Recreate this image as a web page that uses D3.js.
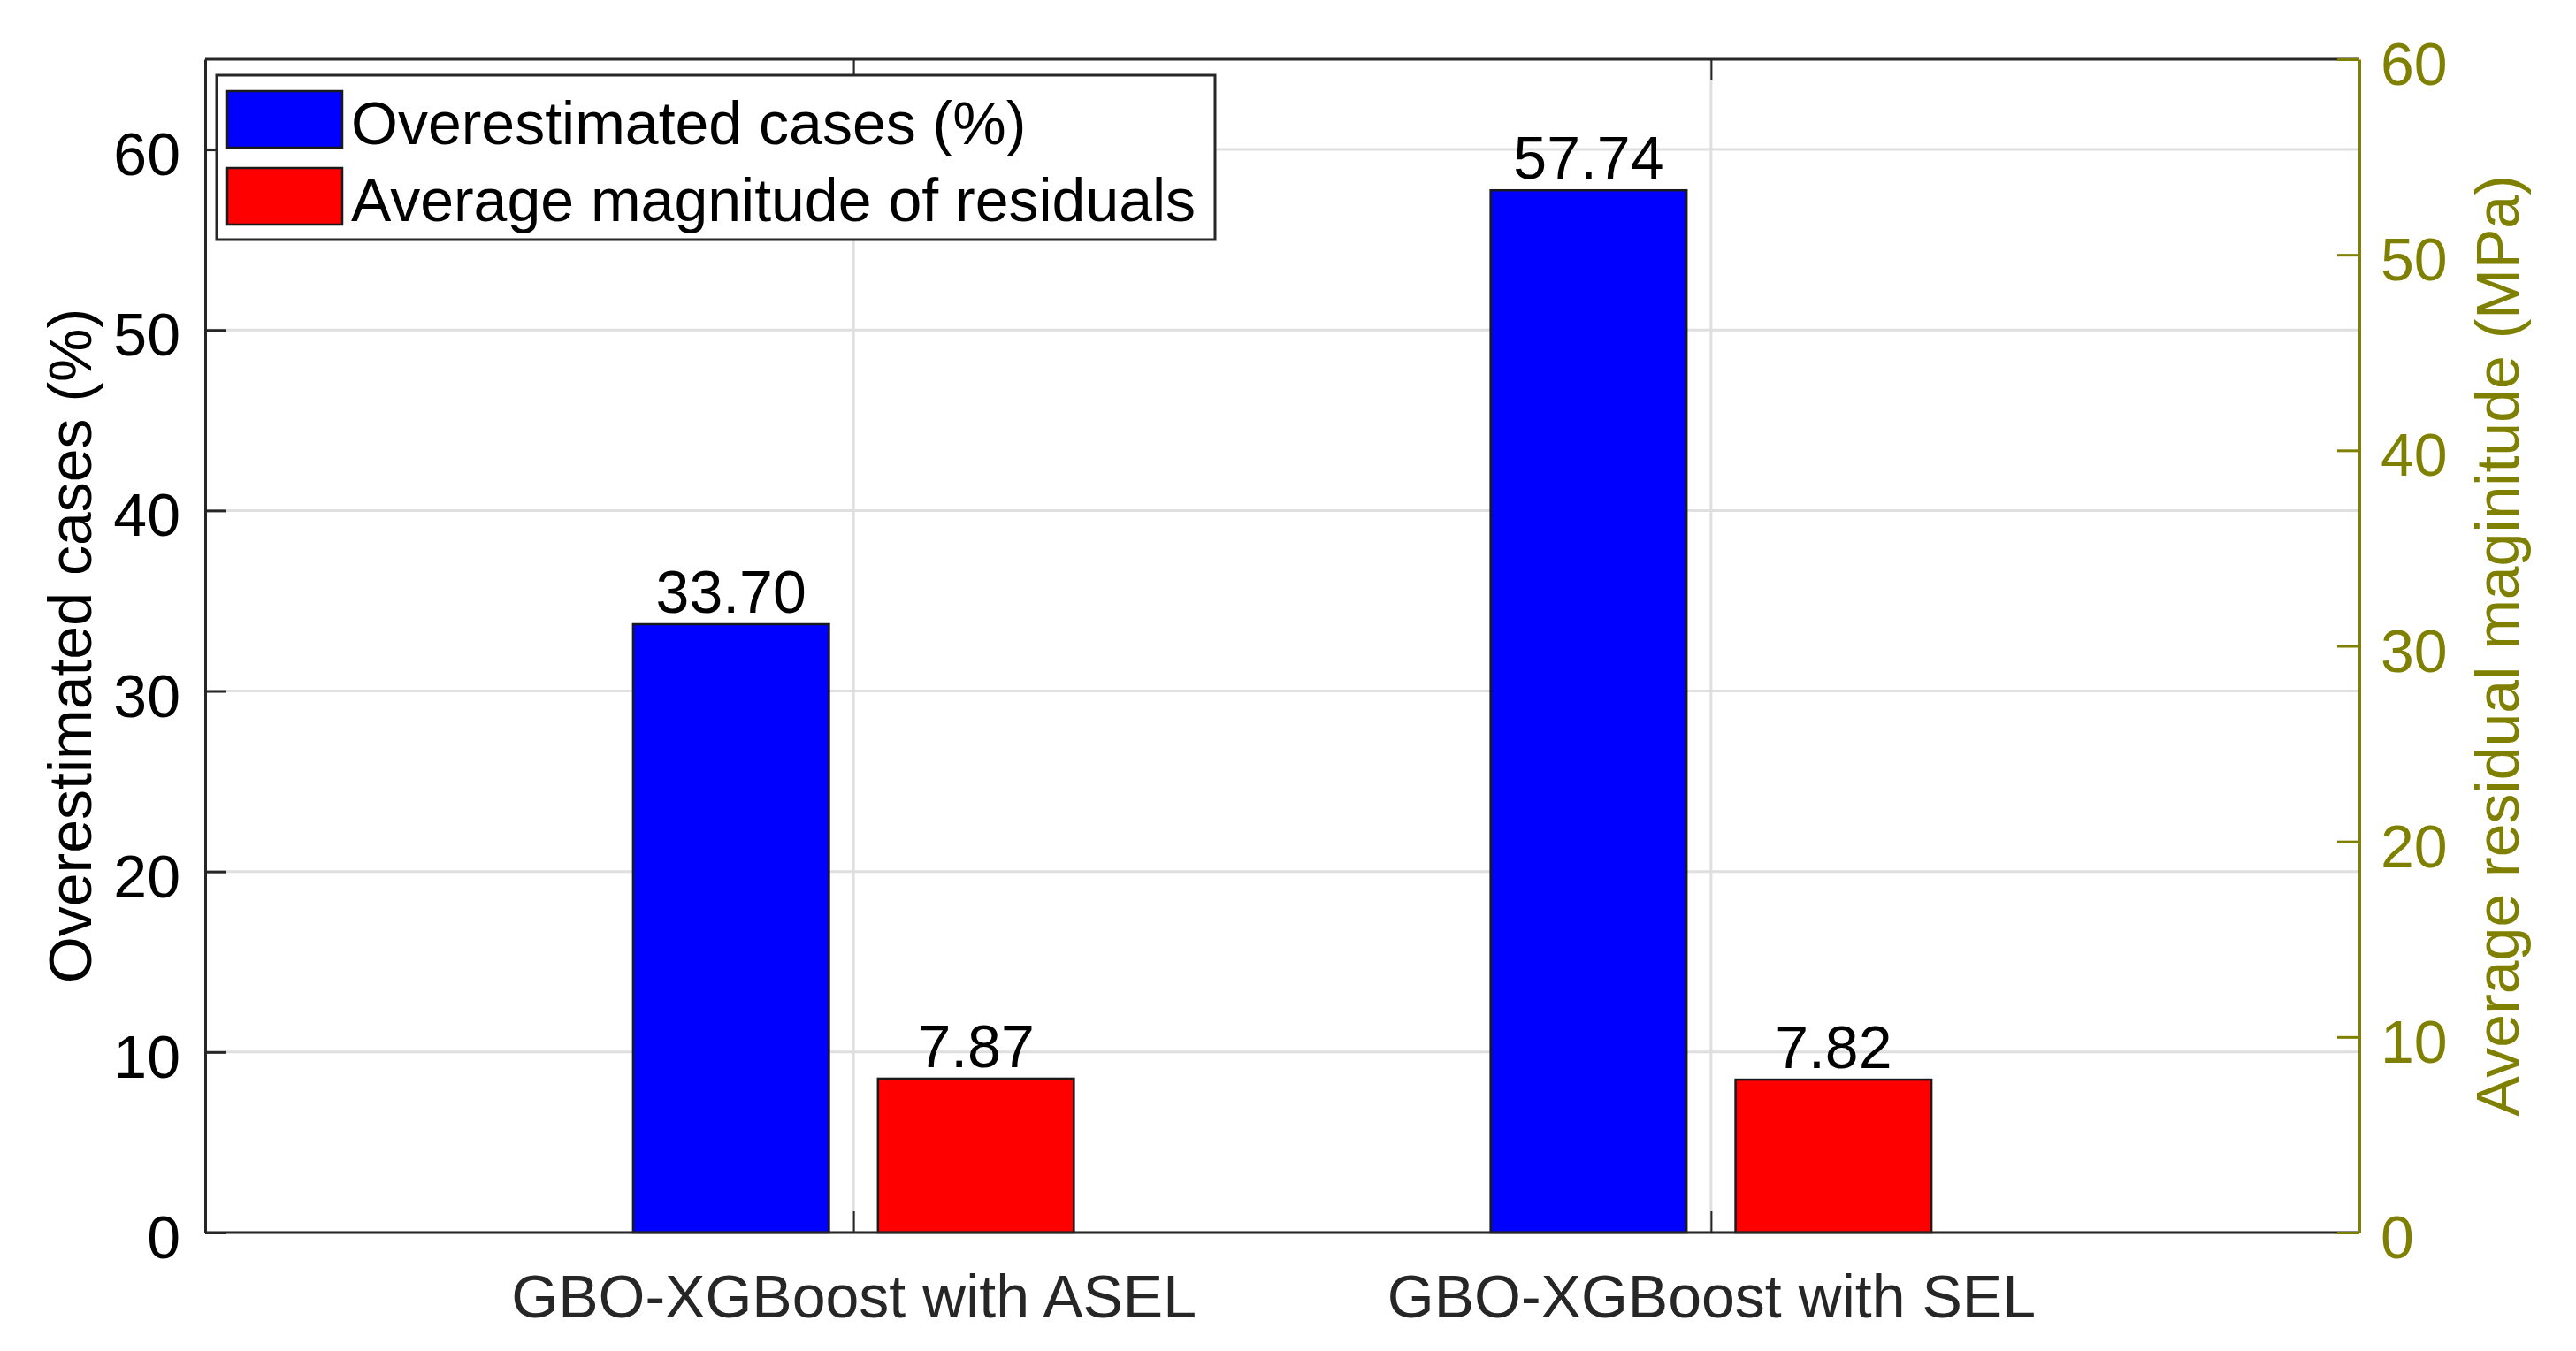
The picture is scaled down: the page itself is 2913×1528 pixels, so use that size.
<!DOCTYPE html>
<html>
<head>
<meta charset="utf-8">
<script src="https://cdn.jsdelivr.net/npm/d3@7"></script>
<style>
    body { margin: 0; background: #fff; }
    text { font-family: Arial, "Liberation Sans", sans-serif; }
</style>
</head>
<body>
<svg width="2913" height="1528"></svg>
<script>
var categories = ["GBO-XGBoost with ASEL", "GBO-XGBoost with SEL"];
var series = ["Overestimated cases (%)", "Average magnitude of residuals"];
var overestimated = [33.70, 57.74];
var residuals = [7.87, 7.82];
var leftTicks = [0, 10, 20, 30, 40, 50, 60];
var rightTicks = [0, 10, 20, 30, 40, 50, 60];
var colors = ["#0000ff", "#ff0000"];

var svg = d3.select("svg"),
    width = +svg.attr("width"),
    height = +svg.attr("height");

var margin = { top: 67, right: 245, bottom: 134, left: 232 };
var x0 = margin.left, x1 = width - margin.right;
var y0 = height - margin.bottom, y1 = margin.top;
var axisColor = "#262626", olive = "#808000", gridColor = "#dfdfdf";
var fs = 68;

var x = d3.scalePoint().domain(categories).range([x0, x1]).padding(0.756);
var sub = d3.scaleBand().domain(d3.range(series.length))
    .range([-0.257 * x.step(), 0.257 * x.step()]).paddingInner(0.2);
var yLeft = d3.scaleLinear().domain([0, 65]).range([y0, y1]);
var yRight = d3.scaleLinear().domain([0, 60]).range([y0, y1]);

svg.append("rect").attr("width", width).attr("height", height).attr("fill", "#fff");

// grid
var grid = svg.append("g").attr("stroke", gridColor).attr("stroke-width", 3);
grid.selectAll(".hg").data(leftTicks).enter().append("line")
    .attr("x1", x0).attr("x2", x1)
    .attr("y1", d => yLeft(d)).attr("y2", d => yLeft(d));
grid.selectAll(".vg").data(categories).enter().append("line")
    .attr("x1", d => x(d)).attr("x2", d => x(d))
    .attr("y1", y0).attr("y2", y1);

// bars
var rows = [];
categories.forEach(function (c, i) {
    rows.push({ cat: c, s: 0, v: overestimated[i], y: yLeft });
    rows.push({ cat: c, s: 1, v: residuals[i], y: yRight });
});

svg.append("g").selectAll("rect")
    .data(rows)
    .enter().append("rect")
    .attr("x", d => x(d.cat) + sub(d.s))
    .attr("width", sub.bandwidth())
    .attr("y", d => d.y(d.v))
    .attr("height", d => y0 - d.y(d.v))
    .attr("fill", d => colors[d.s])
    .attr("stroke", "#1a1a1a")
    .attr("stroke-width", 2.5);

svg.append("g").selectAll("text")
    .data(rows)
    .enter().append("text")
    .attr("x", d => x(d.cat) + sub(d.s) + sub.bandwidth() / 2)
    .attr("y", d => d.y(d.v) - 13)
    .attr("text-anchor", "middle")
    .attr("font-size", fs)
    .attr("fill", "#000")
    .text(d => d.v.toFixed(2));

// left axis
var leftAx = svg.append("g").attr("transform", "translate(" + x0 + ",0)")
    .call(d3.axisLeft(yLeft).tickValues(leftTicks).tickSizeInner(-24).tickSizeOuter(0).tickPadding(28));
leftAx.select(".domain").attr("stroke", axisColor).attr("stroke-width", 3);
leftAx.selectAll(".tick line").attr("stroke", axisColor).attr("stroke-width", 3);
leftAx.selectAll(".tick text").attr("font-size", fs).attr("fill", "#000").attr("dy", "0.42em")
    .attr("font-family", "Arial, 'Liberation Sans', sans-serif");

// bottom axis
var bottomAx = svg.append("g").attr("transform", "translate(0," + y0 + ")")
    .call(d3.axisBottom(x).tickSizeInner(-24).tickSizeOuter(0).tickPadding(48));
bottomAx.select(".domain").attr("stroke", axisColor).attr("stroke-width", 3)
    .attr("d", "M" + x0 + ",0H" + x1);
bottomAx.selectAll(".tick line").attr("stroke", axisColor).attr("stroke-width", 2);
bottomAx.selectAll(".tick text").attr("font-size", fs).attr("fill", axisColor)
    .attr("font-family", "Arial, 'Liberation Sans', sans-serif");

// top border
var topAx = svg.append("g").attr("transform", "translate(0," + y1 + ")")
    .call(d3.axisTop(x).tickSizeInner(-24).tickSizeOuter(0).tickFormat(""));
topAx.select(".domain").attr("stroke", axisColor).attr("stroke-width", 3)
    .attr("d", "M" + x0 + ",0H" + x1);
topAx.selectAll(".tick line").attr("stroke", axisColor).attr("stroke-width", 2);

// right axis
var rightAx = svg.append("g").attr("transform", "translate(" + x1 + ",0)")
    .call(d3.axisRight(yRight).tickValues(rightTicks).tickSizeInner(-25).tickSizeOuter(0).tickPadding(24));
rightAx.select(".domain").attr("stroke", olive).attr("stroke-width", 3);
rightAx.selectAll(".tick line").attr("stroke", olive).attr("stroke-width", 3);
rightAx.selectAll(".tick text").attr("font-size", fs).attr("fill", olive).attr("dy", "0.42em")
    .attr("font-family", "Arial, 'Liberation Sans', sans-serif");

// axis titles
svg.append("text")
    .attr("transform", "translate(103," + (y0 + y1) / 2 + ") rotate(-90)")
    .attr("text-anchor", "middle")
    .attr("font-size", fs)
    .attr("fill", "#000")
    .text("Overestimated cases (%)");

svg.append("text")
    .attr("transform", "translate(2848," + (y0 + y1) / 2 + ") rotate(-90)")
    .attr("text-anchor", "middle")
    .attr("font-size", fs)
    .attr("fill", olive)
    .text("Average residual maginitude (MPa)");

// legend
var legend = svg.append("g").attr("transform", "translate(245,85)");
legend.append("rect")
    .attr("width", 1129).attr("height", 186)
    .attr("fill", "#fff").attr("stroke", axisColor).attr("stroke-width", 3);
var item = legend.selectAll(".legend")
    .data(series)
    .enter().append("g")
    .attr("class", "legend")
    .attr("transform", (d, i) => "translate(0," + i * 87 + ")");
item.append("rect")
    .attr("x", 12).attr("y", 18)
    .attr("width", 130).attr("height", 64)
    .attr("fill", (d, i) => colors[i])
    .attr("stroke", "#1a1a1a").attr("stroke-width", 2.5);
item.append("text")
    .attr("x", 152).attr("y", 78)
    .attr("font-size", fs)
    .attr("fill", "#000")
    .text(d => d);
</script>
</body>
</html>
